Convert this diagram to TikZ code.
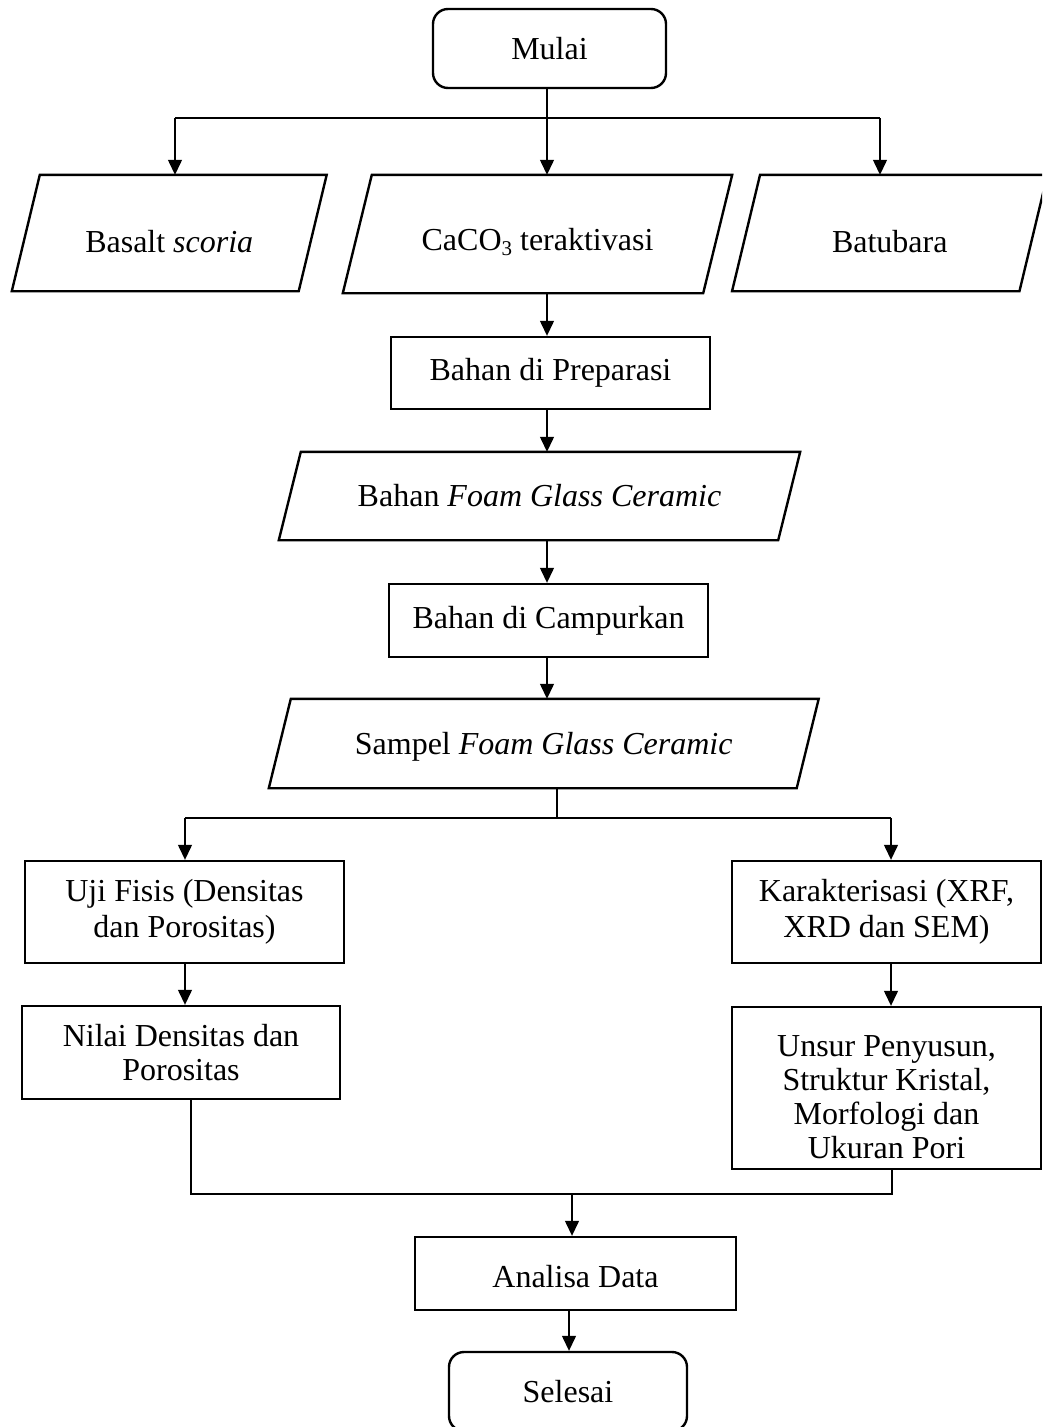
\documentclass[tikz,border=0pt]{standalone}
\usepackage{fontspec}
\setmainfont{Liberation Serif}
\usetikzlibrary{arrows.meta}
\begin{document}
\begin{tikzpicture}[x=1pt,y=-1pt,
  txt/.style={inner sep=0pt, align=center, font=\fontsize{32}{34}\selectfont},
  box/.style={txt, draw, line width=2.4pt},
  term/.style={box, rounded corners=15pt},
  line/.style={line width=1.3pt},
  arr/.style={line, -{Triangle[width=14pt,length=15pt]}},
  para/.style={line width=2.4pt, line join=miter}]
\useasboundingbox (0,0) rectangle (1042,1427);
\clip (0,0) rectangle (1042,1427);

% shapes
\node[term, minimum width=233pt, minimum height=79pt] (mulai) at (549.5,48.5) {Mulai};

\node[txt, minimum width=286.5pt, minimum height=116pt] (p1) at (169.25,233) {};
\node[txt, minimum width=360pt, minimum height=118pt] (p2) at (537.5,234) {};
\node[txt, minimum width=287pt, minimum height=116pt] (p3) at (889.75,233) {};
\node[txt] (p1t) at ([yshift=-9pt]p1.center) {Basalt \textit{scoria}};
\node[txt] (p2t) at ([yshift=-8pt]p2.center) {CaCO\raisebox{-0.35ex}{\fontsize{21}{21}\selectfont 3} teraktivasi};
\node[txt] (p3t) at ([yshift=-9pt]p3.center) {Batubara};

\node[box, minimum width=319pt, minimum height=72pt] (prep) at (550.5,373) {Bahan di Preparasi};
\node[txt, minimum width=499pt, minimum height=88pt] (p4) at (539.5,496) {Bahan \textit{Foam Glass Ceramic}};
\node[box, minimum width=319pt, minimum height=73pt] (camp) at (548.5,620.5) {Bahan di Campurkan};
\node[txt, minimum width=527.5pt, minimum height=89pt] (p5) at (543.75,743.5) {};
\node[txt] (p5t) at ([yshift=-3pt]p5.center) {Sampel \textit{Foam Glass Ceramic}};

\node[box, minimum width=319pt, minimum height=102pt, font=\fontsize{32}{36}\selectfont] (uji) at (184.5,912) {Uji Fisis (Densitas\\dan Porositas)};
\node[box, minimum width=318pt, minimum height=93pt] (nilai) at (181,1052.5) {Nilai Densitas dan\\Porositas};
\node[box, minimum width=309pt, minimum height=102pt, font=\fontsize{32}{36}\selectfont] (kar) at (886.5,912) {Karakterisasi (XRF,\\XRD dan SEM)};
\node[box, minimum width=309pt, minimum height=162pt] (unsur) at (886.5,1088) {};
\node[txt] (unsurt) at ([yshift=-9pt]unsur.center) {Unsur Penyusun,\\Struktur Kristal,\\Morfologi dan\\Ukuran Pori};

\node[box, minimum width=321pt, minimum height=73pt] (ana) at (575.5,1273.5) {};
\node[txt] (anat) at ([yshift=-3pt]ana.center) {Analisa Data};
\node[term, minimum width=238pt, minimum height=79pt] (sel) at (568,1391.5) {Selesai};

% parallelogram outlines
\draw[para] ([xshift=14pt]p1.north west) -- ([xshift=14pt]p1.north east) -- ([xshift=-14pt]p1.south east) -- ([xshift=-14pt]p1.south west) -- cycle;
\draw[para] ([xshift=14.5pt]p2.north west) -- ([xshift=14.5pt]p2.north east) -- ([xshift=-14.5pt]p2.south east) -- ([xshift=-14.5pt]p2.south west) -- cycle;
\draw[para] ([xshift=14pt]p3.north west) -- ([xshift=14pt]p3.north east) -- ([xshift=-14pt]p3.south east) -- ([xshift=-14pt]p3.south west) -- cycle;
\draw[para] ([xshift=11pt]p4.north west) -- ([xshift=11pt]p4.north east) -- ([xshift=-11pt]p4.south east) -- ([xshift=-11pt]p4.south west) -- cycle;
\draw[para] ([xshift=11pt]p5.north west) -- ([xshift=11pt]p5.north east) -- ([xshift=-11pt]p5.south east) -- ([xshift=-11pt]p5.south west) -- cycle;

% junction points
\coordinate (j1) at (547,118);
\coordinate (jl) at (175,118);
\coordinate (jr) at (880,118);
\coordinate (c1) at (547,0);
\coordinate (j2) at (557,818);
\coordinate (j2l) at (185,818);
\coordinate (j2r) at (891,818);
\coordinate (j3) at (572,1194);
\coordinate (j3l) at (191,1194);
\coordinate (j3r) at (892,1194);
\coordinate (c4) at (569,0);

% connectors
\draw[line] (mulai.south -| j1) -- (j1);
\draw[line] (jl) -- (jr);
\draw[arr] (jl) -- (jl |- p1.north);
\draw[arr] (j1) -- (j1 |- p2.north);
\draw[arr] (jr) -- (jr |- p3.north);

\draw[arr] (p2.south -| c1) -- (prep.north -| c1);
\draw[arr] (prep.south -| c1) -- (p4.north -| c1);
\draw[arr] (p4.south -| c1) -- (camp.north -| c1);
\draw[arr] (camp.south -| c1) -- (p5.north -| c1);

\draw[line] (p5.south -| j2) -- (j2);
\draw[line] (j2l) -- (j2r);
\draw[arr] (j2l) -- (j2l |- uji.north);
\draw[arr] (j2r) -- (j2r |- kar.north);
\draw[arr] (uji.south -| j2l) -- (nilai.north -| j2l);
\draw[arr] (kar.south -| j2r) -- (unsur.north -| j2r);

\draw[line] (nilai.south -| j3l) -- (j3l) -- (j3r) -- (unsur.south -| j3r);
\draw[arr] (j3) -- (j3 |- ana.north);
\draw[arr] (ana.south -| c4) -- (sel.north -| c4);
\end{tikzpicture}
\end{document}
